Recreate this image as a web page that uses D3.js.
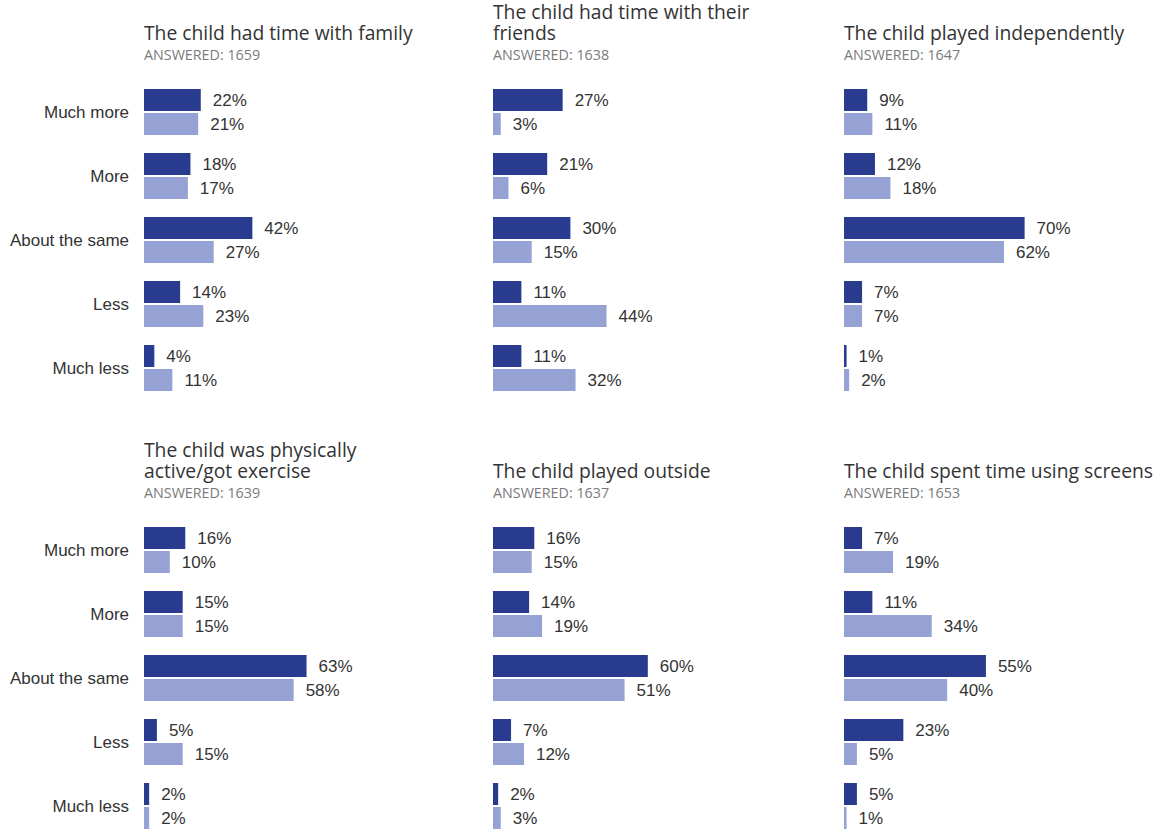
<!DOCTYPE html>
<html><head><meta charset="utf-8">
<script src="https://cdn.jsdelivr.net/npm/d3@7"></script>
<style>body{margin:0;background:#fff}</style>
</head><body>
<svg id="c" width="1165" height="831"></svg>
<script>
const categories = ["Much more","More","About the same","Less","Much less"];
const titles = [
  ["The child had time with family"],
  ["The child had time with their","friends"],
  ["The child played independently"],
  ["The child was physically","active/got exercise"],
  ["The child played outside"],
  ["The child spent time using screens"]
];
const answered = [1659,1638,1647,1639,1637,1653];
const seriesA = [
  [22,18,42,14,4],
  [27,21,30,11,11],
  [9,12,70,7,1],
  [16,15,63,5,2],
  [16,14,60,7,2],
  [7,11,55,23,5]
];
const seriesB = [
  [21,17,27,23,11],
  [3,6,15,44,32],
  [11,18,62,7,2],
  [10,15,58,15,2],
  [15,19,51,12,3],
  [19,34,40,5,1]
];

const svg = d3.select("#c");
const colX = [144,493,844];
const rowY = [0,438];
const colors = ["#283b8e","#95a2d3"];
const x = d3.scaleLinear().domain([0,100]).range([0,258]);
const y = d3.scaleBand().domain(categories).range([80,400]).paddingInner(0).paddingOuter(0);
const barH = 22;

for (let p=0;p<6;p++){
  const col = p%3, row = Math.floor(p/3);
  const g = svg.append("g").attr("transform",`translate(${colX[col]},${rowY[row]})`);
  const lines = titles[p];
  lines.forEach((t,i)=>{
    g.append("text").attr("x",0).attr("y",40-(lines.length-1-i)*21)
      .attr("font-family","'Open Sans'").attr("font-size",19.3).attr("fill","#333")
      .text(t);
  });
  g.append("text").attr("x",0).attr("y",60)
    .attr("font-family","'Open Sans'").attr("font-size",14.3).attr("fill","#7a7a7a")
    .text("ANSWERED: "+answered[p]);

  [seriesA[p],seriesB[p]].forEach((vals,s)=>{
    const data = categories.map((c,i)=>({c,v:vals[i]}));
    g.selectAll(null).data(data).enter().append("rect")
      .attr("x",0)
      .attr("y",d=>y(d.c)+y.bandwidth()/2-23+s*24)
      .attr("width",d=>x(d.v))
      .attr("height",barH)
      .attr("fill",colors[s]);
    g.selectAll(null).data(data).enter().append("text")
      .attr("x",d=>x(d.v)+12)
      .attr("y",d=>y(d.c)+y.bandwidth()/2-23+s*24+barH/2)
      .attr("dy","0.35em")
      .attr("font-family","'Liberation Sans',Arial,sans-serif")
      .attr("font-size",17).attr("fill","#333")
      .text(d=>d.v+"%");
  });

  if (col===0){
    g.selectAll(null).data(categories).enter().append("text")
      .attr("x",-15)
      .attr("y",d=>y(d)+y.bandwidth()/2)
      .attr("dy","0.35em")
      .attr("text-anchor","end")
      .attr("font-family","'Liberation Sans',Arial,sans-serif")
      .attr("font-size",17).attr("fill","#333")
      .text(d=>d);
  }
}
</script>
</body></html>
